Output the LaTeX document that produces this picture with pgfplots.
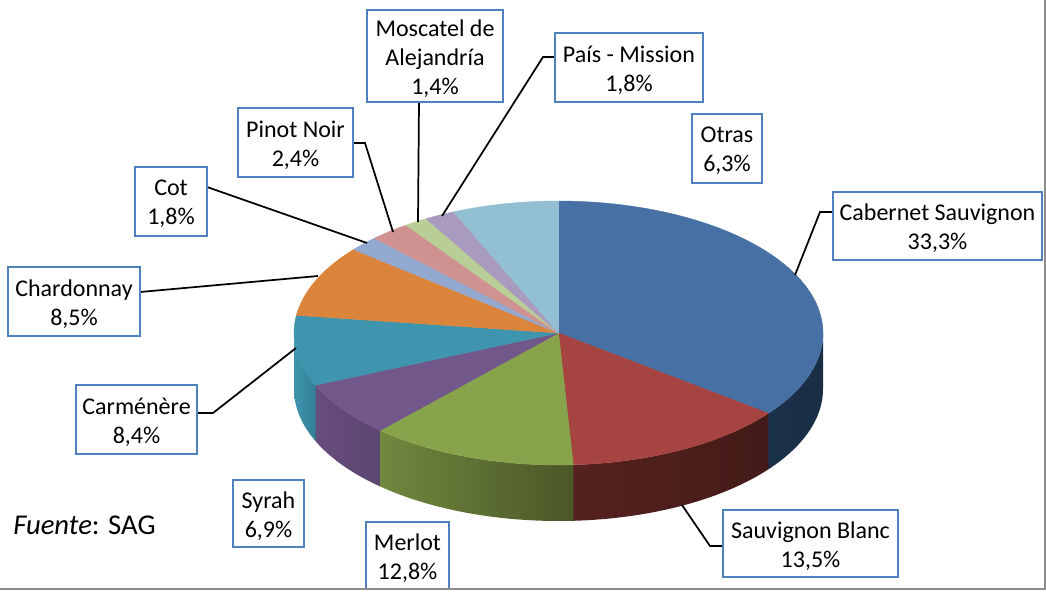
\documentclass[border=0pt]{standalone}
\usepackage{fontspec}
\setmainfont{Carlito}
\usepackage{pgfplots}
\usepackage{pgfplotstable}
\pgfplotsset{compat=1.18}

% shares as printed on the labels (they add up to 97.1)
\pgfplotstableread{
name share
Cabernet 33.3
SauvBlanc 13.5
Merlot 12.8
Syrah 6.9
Carmenere 8.4
Chardonnay 8.5
Cot 1.8
PinotNoir 2.4
Moscatel 1.4
Pais 1.8
Otras 6.3
}\slices

\definecolor{top0}{HTML}{4771A5}\definecolor{wl0}{HTML}{1B304A}\definecolor{wr0}{HTML}{1A2E45}
\definecolor{top1}{HTML}{A64441}\definecolor{wl1}{HTML}{562120}\definecolor{wr1}{HTML}{431B18}
\definecolor{top2}{HTML}{87A44C}\definecolor{wl2}{HTML}{71883F}\definecolor{wr2}{HTML}{4A5727}
\definecolor{top3}{HTML}{71578A}\definecolor{wl3}{HTML}{674D7E}\definecolor{wr3}{HTML}{5C4570}
\definecolor{top4}{HTML}{3F95AE}\definecolor{wl4}{HTML}{3F95AE}\definecolor{wr4}{HTML}{327F96}
\definecolor{top5}{HTML}{DB843C}\definecolor{wl5}{HTML}{DB843C}\definecolor{wr5}{HTML}{DB843C}
\definecolor{top6}{HTML}{93A9CF}\definecolor{wl6}{HTML}{93A9CF}\definecolor{wr6}{HTML}{93A9CF}
\definecolor{top7}{HTML}{D09291}\definecolor{wl7}{HTML}{D09291}\definecolor{wr7}{HTML}{D09291}
\definecolor{top8}{HTML}{B9CD96}\definecolor{wl8}{HTML}{B9CD96}\definecolor{wr8}{HTML}{B9CD96}
\definecolor{top9}{HTML}{A99BBD}\definecolor{wl9}{HTML}{A99BBD}\definecolor{wr9}{HTML}{A99BBD}
\definecolor{top10}{HTML}{92C0D2}\definecolor{wl10}{HTML}{92C0D2}\definecolor{wr10}{HTML}{92C0D2}
\definecolor{boxblue}{HTML}{4F81BD}
\definecolor{frame}{HTML}{8C8C8C}

% pie geometry in picture pixels
\def\cx{558.5}\def\cy{333}\def\rx{264.5}\def\ry{132}\def\depth{56}

% append an arc from angle #1 to #2 (clockwise from 12 o'clock) to \pts, shifted down by #3
\newcommand{\arcpts}[3]{%
  \foreach \k in {0,...,48}{%
    \pgfmathsetmacro\ang{#1+(#2-(#1))*\k/48}%
    \pgfmathsetmacro\px{\cx+\rx*sin(\ang)}%
    \pgfmathsetmacro\py{\cy+#3-\ry*cos(\ang)}%
    \xdef\pts{\pts (\px,\py)}%
  }}

\newcommand{\lab}[5]{%
  \draw[boxblue,line width=1.3pt,fill=white] (axis cs:#1,#2) rectangle
    node[text=black,align=center,yshift=-1.8pt,font=\fontsize{18}{21.75}\selectfont]{#5} (axis cs:#3,#4);}
\newcommand{\leader}[1]{\draw[black,line width=1.3pt] #1;}

\begin{document}
\begin{tikzpicture}
% slice boundaries; the front of the 3D pie looks a few degrees stretched
\gdef\cum{0}
\expandafter\gdef\csname ang0\endcsname{0}
\foreach \i in {0,...,10}{
  \pgfplotstablegetelem{\i}{share}\of\slices
  \pgfmathsetmacro\nextcum{\cum+\pgfplotsretval}
  \xdef\cum{\nextcum}
  \pgfmathsetmacro\t{\nextcum/97.1*360}
  \pgfmathsetmacro\w{\t<250 ? \t+4*sin(0.72*\t) : \t}
  \pgfmathtruncatemacro\j{\i+1}
  \expandafter\xdef\csname ang\j\endcsname{\w}
}
\begin{axis}[
  scale only axis,width=784.5pt,height=444pt,
  xmin=0,xmax=1046,ymin=0,ymax=592,y dir=reverse,
  axis lines=none,clip=false]

% side walls, only on the front half
\foreach \i in {0,...,4}{
  \pgfmathtruncatemacro\j{\i+1}
  \pgfmathsetmacro\a{max(\csname ang\i\endcsname,90)}
  \pgfmathsetmacro\b{min(\csname ang\j\endcsname,270)}
  \gdef\pts{}
  \arcpts{\a}{\b}{0}
  \arcpts{\b}{\a}{\depth}
  \edef\doit{\noexpand\addplot[draw=none,mark=none,left color=wl\i,right color=wr\i] coordinates {\pts} -- cycle;}
  \doit
}
% top face
\foreach \i in {0,...,10}{
  \pgfmathtruncatemacro\j{\i+1}
  \edef\a{\csname ang\i\endcsname}
  \edef\b{\csname ang\j\endcsname}
  \xdef\pts{(\cx,\cy)}
  \arcpts{\a}{\b}{0}
  \edef\doit{\noexpand\addplot[draw=top\i,line width=0.3pt,fill=top\i,mark=none] coordinates {\pts} -- cycle;}
  \doit
}

\leader{(axis cs:419,102) -- (axis cs:418,222)}
\leader{(axis cs:555,57) -- (axis cs:543,57) -- (axis cs:442,216)}
\leader{(axis cs:353,143) -- (axis cs:365,143) -- (axis cs:393,232)}
\leader{(axis cs:207,187) -- (axis cs:367,243)}
\leader{(axis cs:140,292) -- (axis cs:318,276)}
\leader{(axis cs:192,413) -- (axis cs:213,413) -- (axis cs:296,348)}
\leader{(axis cs:833,212) -- (axis cs:820,212) -- (axis cs:795,275)}
\leader{(axis cs:723,546) -- (axis cs:710,546) -- (axis cs:682,505)}

\lab{367}{10}{503}{102}{Moscatel de\\Alejandría\\1,4\%}
\lab{555}{33}{703}{102}{País - Mission\\1,8\%}
\lab{692}{114}{762}{183}{Otras\\6,3\%}
\lab{833}{192}{1042}{260}{Cabernet Sauvignon\\33,3\%}
\lab{238}{108}{353}{177}{Pinot Noir\\2,4\%}
\lab{135}{167}{207}{236}{Cot\\1,8\%}
\lab{8}{267}{140}{336}{Chardonnay\\8,5\%}
\lab{76}{385}{197}{454}{Carménère\\8,4\%}
\lab{233}{480}{304}{547}{Syrah\\6,9\%}
\lab{366}{522}{449}{590}{Merlot\\12,8\%}
\lab{723}{510}{898}{577}{Sauvignon Blanc\\13,5\%}

\node[anchor=base west,inner sep=0pt,font=\fontsize{21.5}{26}\selectfont] at (axis cs:13,534) {\textit{Fuente}: SAG};

\fill[white] (axis cs:0,590) rectangle (axis cs:1046,592);
\fill[frame] (axis cs:0,588) rectangle (axis cs:1046,590);
\fill[frame] (axis cs:1044,0) rectangle (axis cs:1046,590);
\end{axis}
\end{tikzpicture}
\end{document}
